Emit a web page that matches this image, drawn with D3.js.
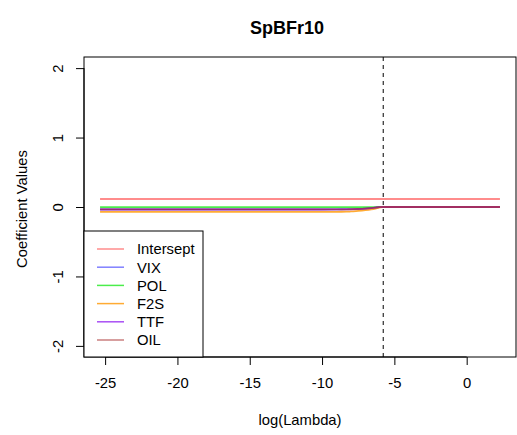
<!DOCTYPE html>
<html><head><meta charset="utf-8">
<script src="https://cdn.jsdelivr.net/npm/d3@7"></script>
<style>body{margin:0;background:#fff}svg{display:block}text{font-family:"Liberation Sans",Arial,sans-serif}</style>
</head><body><div id="chart"></div>
<script>
const title = "SpBFr10";
const logLambda = [-25.35,-20,-15,-12,-10,-9,-8.3,-8,-7.5,-7,-6.6,-6.3,-6.05,-5.8,-5,0,2.3];
const seriesNames = ["Intersept","VIX","POL","F2S","TTF","OIL"];
const intersept = [0.115,0.115,0.115,0.115,0.115,0.115,0.115,0.115,0.115,0.115,0.115,0.115,0.115,0.115,0.115,0.115,0.115];
const vix = [-0.034,-0.034,-0.034,-0.034,-0.034,-0.033,-0.032,-0.031,-0.028,-0.022,-0.015,-0.008,-0.003,0,0,0,0];
const pol = [-0.002,-0.002,-0.002,-0.002,-0.002,-0.002,-0.002,-0.002,-0.002,-0.002,-0.001,-0.001,0,0,0,0,0];
const f2s = [-0.07,-0.07,-0.07,-0.07,-0.07,-0.069,-0.068,-0.064,-0.057,-0.046,-0.034,-0.022,-0.01,0,0,0,0];
const ttf = [-0.036,-0.036,-0.036,-0.036,-0.036,-0.035,-0.034,-0.033,-0.03,-0.024,-0.016,-0.009,-0.003,0,0,0,0];
const oil = [-0.035,-0.035,-0.035,-0.035,-0.035,-0.034,-0.033,-0.032,-0.029,-0.023,-0.015,-0.008,-0.003,0,0,0,0];
const seriesValues = [intersept,vix,pol,f2s,ttf,oil];
const colors = ["rgba(255,0,0,0.45)","rgba(0,0,255,0.5)","rgba(0,230,0,0.7)","rgba(255,150,0,0.8)","rgba(140,20,240,0.75)","rgba(165,42,42,0.6)"];
const xTicks = [-25,-20,-15,-10,-5,0];
const yTicks = [-2,-1,0,1,2];
const cutoff = -5.77;

const W=517,H=435;
const L=84,R=516,T=57,B=357;
const FS=14.8;
const svg=d3.select("#chart").append("svg").attr("width",W).attr("height",H);
const x=d3.scaleLinear().domain([-26.46,3.41]).range([L,R]);
const y=d3.scaleLinear().domain([-2.16,2.16]).range([B,T]);
const fmt=d=>String(d);

svg.append("text").attr("x",(L+R)/2 - 13).attr("y",34).attr("text-anchor","middle")
  .attr("font-size",18).attr("font-weight","bold").text(title);

// series
const line=d3.line().x((d,i)=>x(logLambda[i])).y(d=>y(d)).curve(d3.curveMonotoneX);
seriesValues.forEach((vals,k)=>{
  svg.append("path").attr("d",line(vals)).attr("fill","none")
    .attr("stroke",colors[k]).attr("stroke-width",1.8);
});

// dashed cutoff
svg.append("line").attr("x1",x(cutoff)).attr("x2",x(cutoff)).attr("y1",T).attr("y2",B)
  .attr("stroke","#000").attr("stroke-dasharray","4,4").attr("stroke-width",1);

// box
svg.append("rect").attr("x",L).attr("y",T).attr("width",R-L).attr("height",B-T)
  .attr("fill","none").attr("stroke","#000").attr("stroke-width",1);

// x axis
const xa=svg.append("g").attr("transform",`translate(0,${B})`)
  .call(d3.axisBottom(x).tickValues(xTicks).tickSize(8).tickPadding(12).tickFormat(fmt));
xa.select(".domain").attr("d",`M${x(-25)},0H${x(0)}`);
xa.selectAll("text").attr("font-size",FS).attr("font-family","Liberation Sans, Arial, sans-serif").attr("fill","#000");
xa.selectAll("line").attr("stroke","#000");

// y axis
const ya=svg.append("g").attr("transform",`translate(${L},0)`)
  .call(d3.axisLeft(y).tickValues(yTicks).tickSize(8).tickFormat(fmt));
ya.select(".domain").attr("d",`M0,${y(-2)}V${y(2)}`);
ya.selectAll("line").attr("stroke","#000");
ya.selectAll("text").attr("font-size",FS).attr("font-family","Liberation Sans, Arial, sans-serif").attr("fill","#000")
  .attr("x",0).attr("dy",0).attr("text-anchor","middle")
  .attr("transform","translate(-25,0) rotate(-90)").attr("dominant-baseline","middle");

// axis titles
svg.append("text").attr("x",(L+R)/2).attr("y",425).attr("text-anchor","middle").attr("font-size",FS).text("log(Lambda)");
svg.append("text").attr("transform",`translate(27,${(T+B)/2 + 2}) rotate(-90)`).attr("text-anchor","middle").attr("font-size",FS).text("Coefficient Values");

// legend
const lg=svg.append("g");
lg.append("rect").attr("x",L).attr("y",231).attr("width",203-L).attr("height",B-231)
  .attr("fill","#fff").attr("stroke","#000");
seriesNames.forEach((n,k)=>{
  const yy=249+k*18.2;
  lg.append("line").attr("x1",97).attr("x2",124).attr("y1",yy).attr("y2",yy)
    .attr("stroke",colors[k]).attr("stroke-width",1.5);
  lg.append("text").attr("x",137).attr("y",yy).attr("dy","0.36em").attr("font-size",FS).text(n);
});
</script></body></html>
